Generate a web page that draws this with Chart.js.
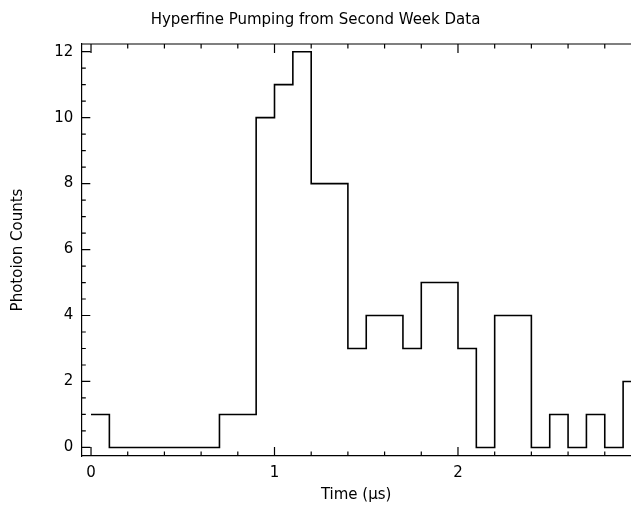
<!DOCTYPE html>
<html>
<head>
<meta charset="utf-8">
<script src="https://cdn.jsdelivr.net/npm/chart.js@4.4.1/dist/chart.umd.min.js"></script>
<style>
  html, body { margin: 0; padding: 0; background: #fff; }
  #wrap { width: 631px; height: 506px; }
</style>
</head>
<body>
<div id="wrap"><canvas id="grafico"></canvas></div>
<script>
// bin left edges (microseconds) and photoion counts per 0.1 us bin
const binStart = [0.0, 0.1, 0.2, 0.3, 0.4, 0.5, 0.6, 0.7, 0.8, 0.9,
                  1.0, 1.1, 1.2, 1.3, 1.4, 1.5, 1.6, 1.7, 1.8, 1.9,
                  2.0, 2.1, 2.2, 2.3, 2.4, 2.5, 2.6, 2.7, 2.8, 2.9];
const counts   = [1, 0, 0, 0, 0, 0, 0, 1, 1, 10,
                  11, 12, 8, 8, 3, 4, 4, 3, 5, 5,
                  3, 0, 4, 4, 0, 1, 0, 1, 0, 2];
const lastEdge = 3.0;

const xTickLabels = [0, 1, 2];
const yTickLabels = [0, 2, 4, 6, 8, 10, 12];

const titulo = "Hyperfine Pumping from Second Week Data";
const tituloX = "Time (\u00b5s)";
const tituloY = "Photoion Counts";

// puntos del histograma (escalon en el borde izquierdo de cada bin)
var puntos = [];
binStart.forEach((t, i) => {
    puntos.push({ x: t, y: counts[i] });
});
puntos.push({ x: lastEdge, y: counts[counts.length - 1] });

const fuente = "'DejaVu Sans', sans-serif";

// ticks hacia adentro estilo IDL, en los bordes de abajo, izquierda y arriba
const ticksAdentro = {
    id: 'ticksAdentro',
    afterDraw(chart) {
        const ctx = chart.ctx;
        const area = chart.chartArea;
        const xs = chart.scales.x;
        const ys = chart.scales.y;
        ctx.save();
        ctx.strokeStyle = '#000';
        ctx.lineWidth = 1.2;
        ctx.beginPath();
        // borde superior
        ctx.moveTo(area.left, area.top);
        ctx.lineTo(area.right, area.top);
        // eje x
        for (let v = 0; v <= 3.0001; v += 0.2) {
            const px = xs.getPixelForValue(v);
            if (px < area.left || px > area.right) continue;
            const major = Math.abs(v - Math.round(v)) < 1e-6;
            const len = major ? 9 : 4.5;
            ctx.moveTo(px, area.bottom);
            ctx.lineTo(px, area.bottom - len);
            ctx.moveTo(px, area.top);
            ctx.lineTo(px, area.top + len);
        }
        // eje y
        for (let v = 0; v <= 12.0001; v += 0.5) {
            const py = ys.getPixelForValue(v);
            const major = Math.abs(v / 2 - Math.round(v / 2)) < 1e-6;
            const len = major ? 9 : 4.5;
            ctx.moveTo(area.left, py);
            ctx.lineTo(area.left + len, py);
        }
        ctx.stroke();
        ctx.restore();
    }
};

var ctxHist = document.getElementById("grafico");

const grafico = new Chart(ctxHist, {
    type: 'line',
    data: {
        datasets: [{
            data: puntos,
            borderColor: '#000',
            borderWidth: 1.6,
            pointRadius: 0,
            stepped: 'before',
            fill: false,
        }],
    },
    options: {
        responsive: true,
        maintainAspectRatio: false,
        animation: false,
        layout: { padding: 0 },
        plugins: {
            legend: { display: false },
            tooltip: { enabled: false },
            title: {
                display: true,
                text: titulo,
                color: '#000',
                font: { family: fuente, size: 15, weight: 'normal' },
                padding: { top: 11, bottom: 15 },
            },
        },
        scales: {
            x: {
                type: 'linear',
                min: -0.053,
                max: 2.943,
                afterFit: (s) => { s.height = 50; },
                afterBuildTicks: (s) => { s.ticks = xTickLabels.map(v => ({ value: v })); },
                grid: { display: false, drawTicks: false },
                border: { display: true, color: '#000', width: 1.2 },
                ticks: {
                    color: '#000',
                    padding: 8,
                    maxRotation: 0,
                    font: { family: fuente, size: 15 },
                },
                title: {
                    display: true,
                    text: tituloX,
                    color: '#000',
                    font: { family: fuente, size: 15 },
                    padding: { top: 0, bottom: 2 },
                },
            },
            y: {
                type: 'linear',
                min: -0.26,
                max: 12.233,
                afterFit: (s) => { s.width = 81.3; },
                afterBuildTicks: (s) => { s.ticks = yTickLabels.map(v => ({ value: v })); },
                grid: { display: false, drawTicks: false },
                border: { display: true, color: '#000', width: 1.2 },
                ticks: {
                    color: '#000',
                    padding: 8,
                    font: { family: fuente, size: 15 },
                },
                title: {
                    display: true,
                    text: tituloY,
                    color: '#000',
                    font: { family: fuente, size: 15 },
                    padding: { top: 9, bottom: 0 },
                },
            },
        },
    },
    plugins: [ticksAdentro],
});
</script>
</body>
</html>
